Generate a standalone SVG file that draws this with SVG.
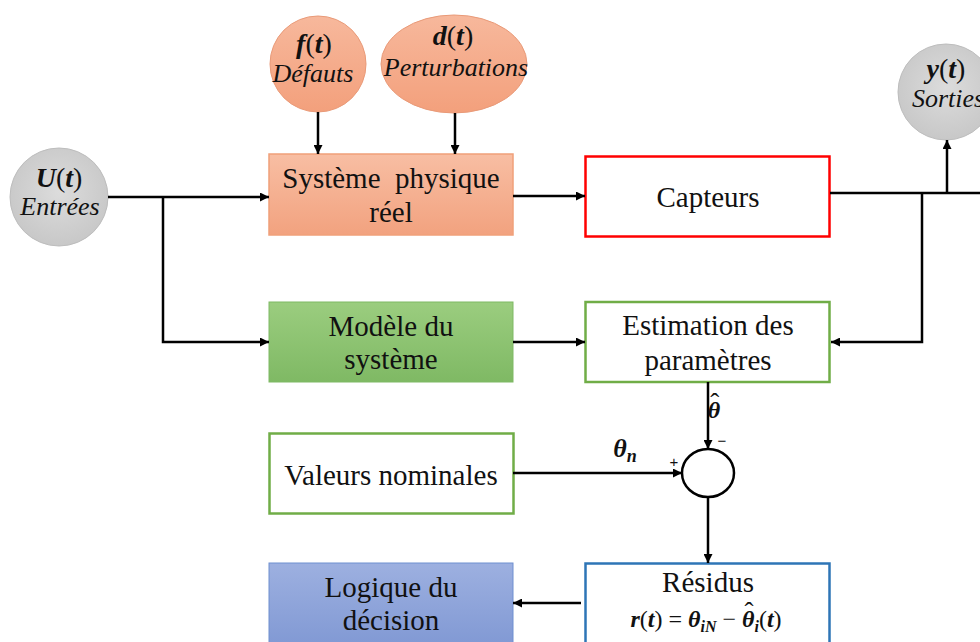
<svg xmlns="http://www.w3.org/2000/svg" width="980" height="642" viewBox="0 0 980 642">
  <defs>
    <marker id="arr" viewBox="0 0 10 10" refX="10" refY="5" markerWidth="9" markerHeight="9" markerUnits="userSpaceOnUse" orient="auto">
      <path d="M0,0 L10,5 L0,10 z" fill="#000"/>
    </marker>
    <radialGradient id="gGray" cx="0.5" cy="0.45" r="0.6">
      <stop offset="0" stop-color="#dcdcdc"/>
      <stop offset="1" stop-color="#c6c6c6"/>
    </radialGradient>
    <linearGradient id="gOrange" x1="0" y1="0" x2="0" y2="1">
      <stop offset="0" stop-color="#f7b89c"/>
      <stop offset="1" stop-color="#f3a07c"/>
    </linearGradient>
    <linearGradient id="gOrangeBox" x1="0" y1="0" x2="0" y2="1">
      <stop offset="0" stop-color="#f8bea3"/>
      <stop offset="1" stop-color="#f2a27f"/>
    </linearGradient>
    <linearGradient id="gGreen" x1="0" y1="0" x2="0" y2="1">
      <stop offset="0" stop-color="#9bcd7f"/>
      <stop offset="1" stop-color="#7fb964"/>
    </linearGradient>
    <linearGradient id="gBlue" x1="0" y1="0" x2="0" y2="1">
      <stop offset="0" stop-color="#9db0e0"/>
      <stop offset="1" stop-color="#8199d4"/>
    </linearGradient>
  </defs>
  <style>
    .lbl { font-family: "Liberation Serif", "Times New Roman", serif; font-size: 29px; fill: #111; text-anchor: middle; }
    .math { font-family: "Liberation Serif", "DejaVu Serif", serif; font-weight: bold; font-style: italic; fill: #111; text-anchor: middle; }
    .up { font-style: normal; font-weight: normal; }
    .it { font-family: "Liberation Serif", serif; font-style: italic; font-size: 26px; fill: #111; text-anchor: middle; }
    .wire { fill: none; stroke: #000; stroke-width: 2.5; }
    .sign { font-family: "Liberation Sans", Arial, sans-serif; font-size: 15px; fill: #111; text-anchor: middle; }
  </style>

  <rect width="980" height="642" fill="#fff"/>

  <!-- input / output signals -->
  <g id="node-fault">
    <circle cx="318" cy="64" r="48" fill="url(#gOrange)" stroke="#e99a78" stroke-width="1"/>
    <text class="math" x="314" y="53" font-size="28">f<tspan class="up">(</tspan>t<tspan class="up">)</tspan></text>
    <text class="it" x="313" y="82">Défauts</text>
  </g>
  <g id="node-disturbance">
    <ellipse cx="454" cy="64" rx="73" ry="49" fill="url(#gOrange)" stroke="#e99a78" stroke-width="1"/>
    <text class="math" x="453" y="45" font-size="28">d<tspan class="up">(</tspan>t<tspan class="up">)</tspan></text>
    <text class="it" x="456" y="76">Perturbations</text>
  </g>
  <g id="node-input">
    <circle cx="59" cy="197" r="49" fill="url(#gGray)" stroke="#bdbdbd" stroke-width="1"/>
    <text class="math" x="59" y="187" font-size="28">U<tspan class="up">(</tspan>t<tspan class="up">)</tspan></text>
    <text class="it" x="60" y="215">Entrées</text>
  </g>
  <g id="node-output">
    <circle cx="946" cy="92" r="48" fill="url(#gGray)" stroke="#bdbdbd" stroke-width="1"/>
    <text class="math" x="946" y="78" font-size="28">y<tspan class="up">(</tspan>t<tspan class="up">)</tspan></text>
    <text class="it" x="948" y="107">Sorties</text>
  </g>

  <!-- blocks -->
  <g id="node-system">
    <rect x="269" y="154" width="244" height="81" fill="url(#gOrangeBox)" stroke="#f0a07a" stroke-width="1.5"/>
    <text class="lbl" x="391" y="188" xml:space="preserve">Système  physique</text>
    <text class="lbl" x="391" y="222">réel</text>
  </g>
  <g id="node-sensors">
    <rect x="585.5" y="156.5" width="244" height="80" fill="#fff" stroke="#ff0000" stroke-width="2.5"/>
    <text class="lbl" x="708" y="207">Capteurs</text>
  </g>
  <g id="node-model">
    <rect x="269" y="302" width="244" height="80" fill="url(#gGreen)" stroke="#7fb964" stroke-width="1"/>
    <text class="lbl" x="391" y="336">Modèle du</text>
    <text class="lbl" x="391" y="369">système</text>
  </g>
  <g id="node-estimation">
    <rect x="585.5" y="302" width="244" height="80" fill="#fff" stroke="#70ad47" stroke-width="2.5"/>
    <text class="lbl" x="708" y="335">Estimation des</text>
    <text class="lbl" x="708" y="370">paramètres</text>
  </g>
  <g id="node-nominal">
    <rect x="269.5" y="433.5" width="244" height="80" fill="#fff" stroke="#70ad47" stroke-width="2.5"/>
    <text class="lbl" x="391" y="485">Valeurs nominales</text>
  </g>
  <g id="node-sum">
    <ellipse cx="708" cy="473" rx="26" ry="24" fill="#fff" stroke="#000" stroke-width="2.5"/>
    <text class="sign" x="674" y="467">+</text>
    <text class="sign" x="722" y="446">−</text>
  </g>
  <g id="node-decision">
    <rect x="269" y="563" width="244" height="82" fill="url(#gBlue)" stroke="#6f8fd0" stroke-width="1"/>
    <text class="lbl" x="391" y="597">Logique du</text>
    <text class="lbl" x="391" y="630">décision</text>
  </g>
  <g id="node-residuals">
    <rect x="585.5" y="563.5" width="244" height="82" fill="#fff" stroke="#2e75b6" stroke-width="2.5"/>
    <text class="lbl" x="708" y="592">Résidus</text>
    <text class="math" x="706" y="627" font-size="24" xml:space="preserve">r<tspan class="up">(</tspan>t<tspan class="up">) = </tspan>θ<tspan font-size="16" dy="5">iN</tspan><tspan class="up" dy="-5"> − </tspan>θ<tspan class="up" font-size="27" dx="-10" dy="-6">ˆ</tspan><tspan font-size="16" dx="1" dy="11">i</tspan><tspan class="up" dy="-5">(</tspan>t<tspan class="up">)</tspan></text>
  </g>

  <!-- connectors -->
  <g id="connectors">
    <path class="wire" d="M318,112 V154" marker-end="url(#arr)"/>
    <path class="wire" d="M455,113 V154" marker-end="url(#arr)"/>
    <path class="wire" d="M108,197 H269" marker-end="url(#arr)"/>
    <path class="wire" d="M163,197 V342 H269" marker-end="url(#arr)"/>
    <path class="wire" d="M513,196 H585" marker-end="url(#arr)"/>
    <path class="wire" d="M830,193 H980"/>
    <path class="wire" d="M947,193 V140" marker-end="url(#arr)"/>
    <path class="wire" d="M922,193 V342 H831" marker-end="url(#arr)"/>
    <path class="wire" d="M513,342 H585" marker-end="url(#arr)"/>
    <path class="wire" d="M708,382 V449" marker-end="url(#arr)"/>
    <path class="wire" d="M513,473 H682" marker-end="url(#arr)"/>
    <path class="wire" d="M708,497 V563" marker-end="url(#arr)"/>
    <path class="wire" d="M581,603 H513" marker-end="url(#arr)"/>
    <text class="math" x="714" y="418" font-size="24" text-anchor="start">θ<tspan class="up" font-size="27" dx="-10" dy="-6">ˆ</tspan></text>
    <text class="math" x="625" y="457" font-size="26">θ<tspan font-size="18" dy="5">n</tspan></text>
  </g>
</svg>
